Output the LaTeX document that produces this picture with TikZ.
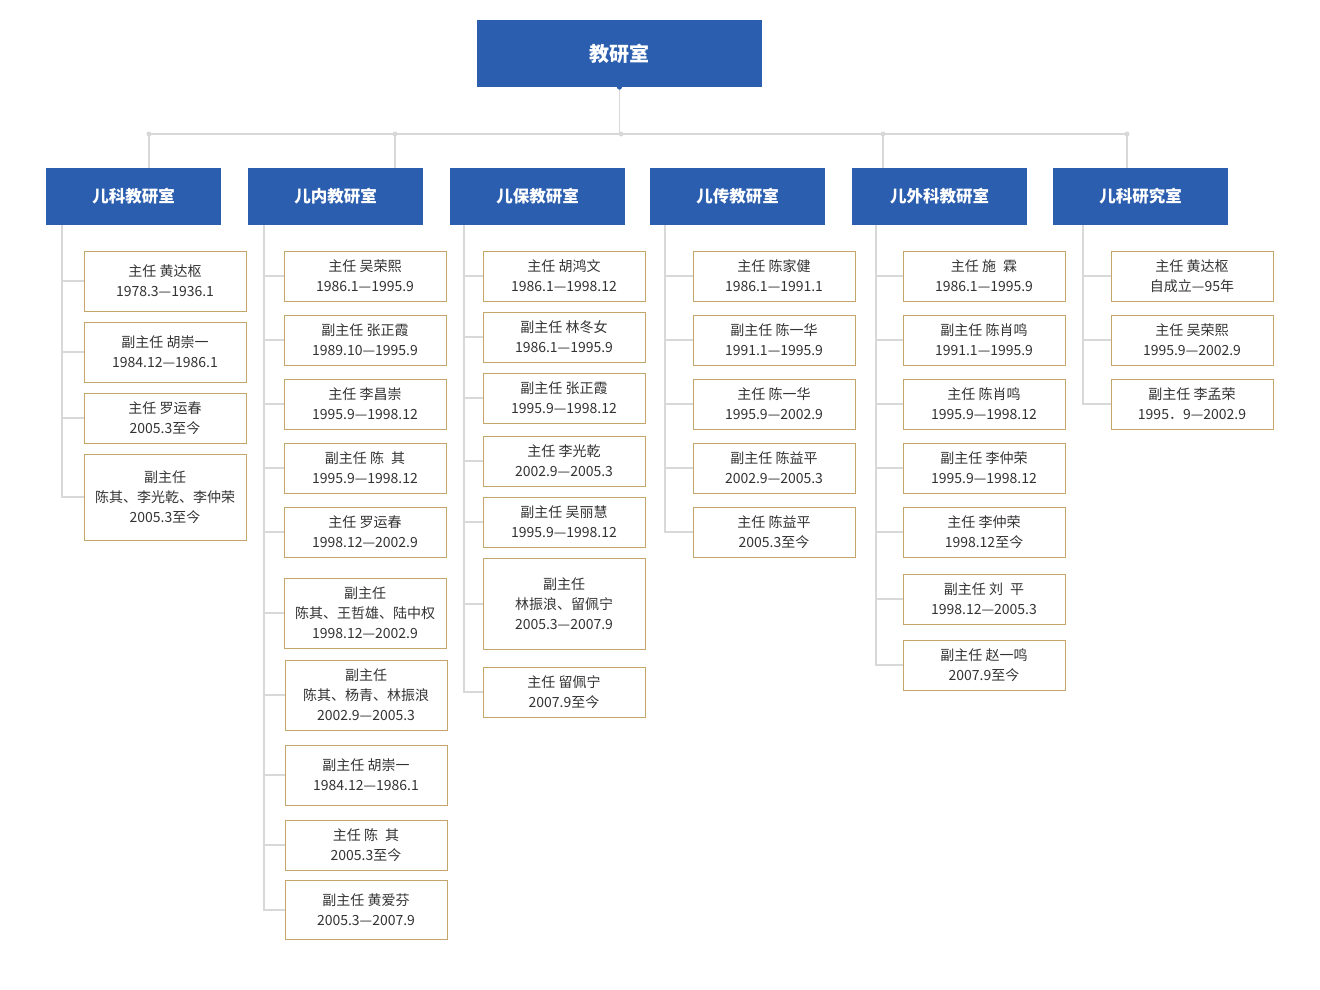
\documentclass[tikz,border=0pt]{standalone}
\usepackage{fontspec}
\usetikzlibrary{backgrounds}
\newfontfamily\cjk{Noto Sans CJK SC}
\definecolor{hdblue}{HTML}{2B5EAE}
\definecolor{postgold}{HTML}{C4A66A}
\definecolor{textgray}{HTML}{333333}
\definecolor{linegray}{HTML}{D8D8D8}
\begin{document}
\begin{tikzpicture}[x=1pt,y=-1pt,
	head/.style={fill=hdblue,text=white,inner sep=0,minimum width=175pt,minimum height=57pt,font=\cjk\fontsize{16.5}{16.5}\selectfont\bfseries},
	post/.style={draw=postgold,line width=0.9pt,text=textgray,align=center,inner sep=0,minimum width=162pt,minimum height=50pt,font=\cjk\fontsize{14}{20}\selectfont},
	link/.style={draw=linegray,line width=1.4pt},
	joint/.style={circle,fill=linegray,inner sep=0,minimum size=5pt}]
	\useasboundingbox (0,0) rectangle (1320,990);
	% top
	\node[head,minimum width=285pt,minimum height=67pt,font=\cjk\fontsize{20}{20}\selectfont\bfseries] (jys) at (619.5,53.5) {教研室};
	% departments
	\node[head] (ke) at (133.5,196.5) {儿科教研室};
	\node[head] (nei) at (335.5,196.5) {儿内教研室};
	\node[head] (bao) at (537.5,196.5) {儿保教研室};
	\node[head] (chuan) at (737.5,196.5) {儿传教研室};
	\node[head] (wai) at (939.5,196.5) {儿外科教研室};
	\node[head] (yan) at (1140.5,196.5) {儿科研究室};
	% bus
	\coordinate (bus1) at (149,134);
	\coordinate (bus2) at (395,134);
	\coordinate (bus3) at (621,134);
	\coordinate (bus4) at (883,134);
	\coordinate (bus5) at (1127,134);
	\draw[link] (bus1) -- (bus5);
	\draw[link] (jys.south) -- (jys.south |- bus3);
	\draw[link] (bus1) -- (bus1 |- ke.north);
	\draw[link] (bus2) -- (bus2 |- nei.north);
	\draw[link] (bus4) -- (bus4 |- wai.north);
	\draw[link] (bus5) -- (bus5 |- yan.north);
	\node[joint] at (bus1) {};
	\node[joint] at (bus2) {};
	\node[joint] at (bus3) {};
	\node[joint] at (bus4) {};
	\node[joint] at (bus5) {};
	\node[circle,fill=hdblue,inner sep=0,minimum size=5pt] at (jys.south) {};
	% 儿科教研室
	\node[post,minimum height=60pt] (k1) at (165,281) {主任 黄达枢\\1978.3—1936.1};
	\node[post,minimum height=60pt] (k2) at (165,352) {副主任 胡崇一\\1984.12—1986.1};
	\node[post] (k3) at (165,418) {主任 罗运春\\2005.3至今};
	\node[post,minimum height=86pt] (k4) at (165,497) {副主任\\陈其、李光乾、李仲荣\\2005.3至今};
	% 儿内教研室
	\node[post] (n1) at (365,276) {主任 吴荣熙\\1986.1—1995.9};
	\node[post] (n2) at (365,340) {副主任 张正霞\\1989.10—1995.9};
	\node[post] (n3) at (365,404) {主任 李昌崇\\1995.9—1998.12};
	\node[post] (n4) at (365,468) {副主任 陈\enspace 其\\1995.9—1998.12};
	\node[post] (n5) at (365,532) {主任 罗运春\\1998.12—2002.9};
	\node[post,minimum height=70pt] (n6) at (365,613) {副主任\\陈其、王哲雄、陆中权\\1998.12—2002.9};
	\node[post,minimum height=70pt] (n7) at (366,695) {副主任\\陈其、杨青、林振浪\\2002.9—2005.3};
	\node[post,minimum height=60pt] (n8) at (366,775) {副主任 胡崇一\\1984.12—1986.1};
	\node[post] (n9) at (366,845) {主任 陈\enspace 其\\2005.3至今};
	\node[post,minimum height=59pt] (n10) at (366,910) {副主任 黄爱芬\\2005.3—2007.9};
	% 儿保教研室
	\node[post] (b1) at (564,276) {主任 胡鸿文\\1986.1—1998.12};
	\node[post] (b2) at (564,337) {副主任 林冬女\\1986.1—1995.9};
	\node[post] (b3) at (564,398) {副主任 张正霞\\1995.9—1998.12};
	\node[post] (b4) at (564,461) {主任 李光乾\\2002.9—2005.3};
	\node[post] (b5) at (564,522) {副主任 吴丽慧\\1995.9—1998.12};
	\node[post,minimum height=91pt] (b6) at (564,604) {副主任\\林振浪、留佩宁\\2005.3—2007.9};
	\node[post] (b7) at (564,692) {主任 留佩宁\\2007.9至今};
	% 儿传教研室
	\node[post] (c1) at (774,276) {主任 陈家健\\1986.1—1991.1};
	\node[post] (c2) at (774,340) {副主任 陈一华\\1991.1—1995.9};
	\node[post] (c3) at (774,404) {主任 陈一华\\1995.9—2002.9};
	\node[post] (c4) at (774,468) {副主任 陈益平\\2002.9—2005.3};
	\node[post] (c5) at (774,532) {主任 陈益平\\2005.3至今};
	% 儿外科教研室
	\node[post] (w1) at (984,276) {主任 施\enspace 霖\\1986.1—1995.9};
	\node[post] (w2) at (984,340) {副主任 陈肖鸣\\1991.1—1995.9};
	\node[post] (w3) at (984,404) {主任 陈肖鸣\\1995.9—1998.12};
	\node[post] (w4) at (984,468) {副主任 李仲荣\\1995.9—1998.12};
	\node[post] (w5) at (984,532) {主任 李仲荣\\1998.12至今};
	\node[post] (w6) at (984,599) {副主任 刘\enspace 平\\1998.12—2005.3};
	\node[post] (w7) at (984,665) {副主任 赵一鸣\\2007.9至今};
	% 儿科研究室
	\node[post] (y1) at (1192,276) {主任 黄达枢\\自成立—95年};
	\node[post] (y2) at (1192,340) {主任 吴荣熙\\1995.9—2002.9};
	\node[post] (y3) at (1192,404) {副主任 李孟荣\\1995．9—2002.9};
	% spines
	\coordinate (ks) at (62,225);
	\coordinate (ns) at (264,225);
	\coordinate (bs) at (464,225);
	\coordinate (cs) at (665,225);
	\coordinate (ws) at (876,225);
	\coordinate (ys) at (1083,225);
	\begin{scope}[on background layer]
	\draw[link] (ks) |- (k4.west);
	\draw[link] (ks |- k1.west) -- (k1.west);
	\draw[link] (ks |- k2.west) -- (k2.west);
	\draw[link] (ks |- k3.west) -- (k3.west);
	\draw[link] (ns) |- (n10.west);
	\draw[link] (ns |- n1.west) -- (n1.west);
	\draw[link] (ns |- n2.west) -- (n2.west);
	\draw[link] (ns |- n3.west) -- (n3.west);
	\draw[link] (ns |- n4.west) -- (n4.west);
	\draw[link] (ns |- n5.west) -- (n5.west);
	\draw[link] (ns |- n6.west) -- (n6.west);
	\draw[link] (ns |- n7.west) -- (n7.west);
	\draw[link] (ns |- n8.west) -- (n8.west);
	\draw[link] (ns |- n9.west) -- (n9.west);
	\draw[link] (bs) |- (b7.west);
	\draw[link] (bs |- b1.west) -- (b1.west);
	\draw[link] (bs |- b2.west) -- (b2.west);
	\draw[link] (bs |- b3.west) -- (b3.west);
	\draw[link] (bs |- b4.west) -- (b4.west);
	\draw[link] (bs |- b5.west) -- (b5.west);
	\draw[link] (bs |- b6.west) -- (b6.west);
	\draw[link] (cs) |- (c5.west);
	\draw[link] (cs |- c1.west) -- (c1.west);
	\draw[link] (cs |- c2.west) -- (c2.west);
	\draw[link] (cs |- c3.west) -- (c3.west);
	\draw[link] (cs |- c4.west) -- (c4.west);
	\draw[link] (ws) |- (w7.west);
	\draw[link] (ws |- w1.west) -- (w1.west);
	\draw[link] (ws |- w2.west) -- (w2.west);
	\draw[link] (ws |- w3.west) -- (w3.west);
	\draw[link] (ws |- w4.west) -- (w4.west);
	\draw[link] (ws |- w5.west) -- (w5.west);
	\draw[link] (ws |- w6.west) -- (w6.west);
	\draw[link] (ys) |- (y3.west);
	\draw[link] (ys |- y1.west) -- (y1.west);
	\draw[link] (ys |- y2.west) -- (y2.west);
	\end{scope}
\end{tikzpicture}
\end{document}
